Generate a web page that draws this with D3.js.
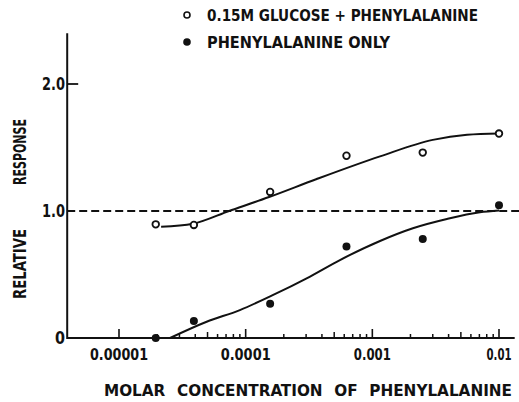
<!DOCTYPE html>
<html>
<head>
<meta charset="utf-8">
<script src="https://cdn.jsdelivr.net/npm/d3@7"></script>
<style>
  body { margin: 0; background: #fff; }
  text {
    font-family: "DejaVu Sans Condensed", "DejaVu Sans", sans-serif;
    font-stretch: condensed;
    font-weight: bold;
    fill: #111;
  }
</style>
</head>
<body>
<svg id="chart" width="519" height="402"></svg>
<script>
// molar concentration of phenylalanine
const concentrations = [0.0000195, 0.000039, 0.000156, 0.000625, 0.0025, 0.01];
// relative response, 0.15M glucose + phenylalanine (open circles)
const glucoseValues = [0.895, 0.89, 1.15, 1.435, 1.46, 1.61];
// relative response, phenylalanine only (filled circles)
const pheValues = [0.0, 0.134, 0.27, 0.72, 0.78, 1.045];

// hand-drawn fitted curves
const glucoseCurve = [
  [0.0000215, 0.876], [0.0000384, 0.90], [0.000074, 1.0], [0.000153, 1.11],
  [0.00036, 1.25], [0.00115, 1.43], [0.003, 1.56], [0.0056, 1.60], [0.01, 1.61]
];
const pheCurve = [
  [0.0000253, 0.0], [0.0000492, 0.128], [0.00009, 0.22], [0.000165, 0.339],
  [0.000303, 0.47], [0.000555, 0.614], [0.00115, 0.764], [0.00209, 0.864],
  [0.00388, 0.937], [0.00707, 0.99], [0.01, 1.004]
];

const xTicks = [0.00001, 0.0001, 0.001, 0.01];
const xTickLabels = ["0.00001", "0.0001", "0.001", "0.01"];
const yTicks = [0, 1, 2];
const yTickLabels = ["0", "1.0", "2.0"];
const legendLabels = ["0.15M  GLUCOSE + PHENYLALANINE", "PHENYLALANINE  ONLY"];

const svg = d3.select("#chart");

const x = d3.scaleLog().domain([1e-5, 1e-2]).range([119, 499]);
const y = d3.scaleLinear().domain([0, 2]).range([338, 84]);
const xMin = 3.9e-6, xMax = 1.33e-2, yMax = 2.4;

const axisG = svg.append("g").attr("stroke", "#111").attr("fill", "none");

// y axis
axisG.append("line")
  .attr("x1", x(xMin)).attr("x2", x(xMin))
  .attr("y1", y(0) + 1).attr("y2", y(yMax))
  .attr("stroke-width", 2);
// tick at 2.0 (1.0 is the dashed line)
axisG.append("line")
  .attr("x1", x(xMin)).attr("x2", x(xMin) + 11)
  .attr("y1", y(2)).attr("y2", y(2))
  .attr("stroke-width", 1.8);

// x axis
axisG.append("line")
  .attr("x1", x(xMin)).attr("x2", x(xMax))
  .attr("y1", y(0)).attr("y2", y(0))
  .attr("stroke-width", 2);

// log ticks pointing up
const minorTicks = [];
[1e-5, 1e-4, 1e-3].forEach(d => {
  for (let k = 2; k <= 9; k++) minorTicks.push(d * k);
});
axisG.selectAll(".minor")
  .data(minorTicks)
  .enter().append("line")
  .attr("x1", d => x(d)).attr("x2", d => x(d))
  .attr("y1", y(0)).attr("y2", (d, i) => y(0) - (i % 8 === 3 ? 6 : 4))
  .attr("stroke-width", 1.5);
axisG.selectAll(".major")
  .data(xTicks)
  .enter().append("line")
  .attr("x1", d => x(d)).attr("x2", d => x(d))
  .attr("y1", y(0)).attr("y2", y(0) - 9)
  .attr("stroke-width", 1.6);

// tick labels
const xLabLen = [58, 50, 37, 25];
svg.selectAll(".xlab")
  .data(xTicks)
  .enter().append("text")
  .attr("x", d => x(d))
  .attr("y", 360)
  .attr("text-anchor", "middle")
  .attr("textLength", (d, i) => xLabLen[i])
  .attr("lengthAdjust", "spacingAndGlyphs")
  .style("font-size", "16px")
  .text((d, i) => xTickLabels[i]);

svg.selectAll(".ylab")
  .data(yTicks)
  .enter().append("text")
  .attr("x", 65)
  .attr("y", d => y(d) + 6)
  .attr("text-anchor", "end")
  .attr("textLength", d => d === 0 ? 10 : 23)
  .attr("lengthAdjust", "spacingAndGlyphs")
  .style("font-size", "17px")
  .text((d, i) => yTickLabels[i]);

// axis titles
svg.append("text")
  .attr("x", 308).attr("y", 396)
  .attr("text-anchor", "middle")
  .attr("textLength", 408)
  .attr("lengthAdjust", "spacingAndGlyphs")
  .attr("word-spacing", "6")
  .style("font-size", "16px")
  .text("MOLAR CONCENTRATION  OF  PHENYLALANINE");

[["RESPONSE", 152, 66], ["RELATIVE", 264, 70]].forEach(([t, cy, len]) => {
  svg.append("text")
    .attr("transform", `translate(26,${cy}) rotate(-90)`)
    .attr("text-anchor", "middle")
    .attr("textLength", len)
    .attr("lengthAdjust", "spacingAndGlyphs")
    .style("font-size", "18px")
    .text(t);
});

// dashed reference line at 1.0
svg.append("line")
  .attr("x1", x(xMin)).attr("x2", 519)
  .attr("y1", y(1)).attr("y2", y(1))
  .attr("stroke", "#111")
  .attr("stroke-width", 2)
  .attr("stroke-dasharray", "8,4");

// fitted curves
const line = d3.line()
  .x(d => x(d[0]))
  .y(d => y(d[1]))
  .curve(d3.curveMonotoneX);

[glucoseCurve, pheCurve].forEach(c => {
  svg.append("path")
    .attr("d", line(c))
    .attr("fill", "none")
    .attr("stroke", "#111")
    .attr("stroke-width", 2);
});

// data points
svg.append("g").selectAll("circle")
  .data(concentrations)
  .enter().append("circle")
  .attr("cx", d => x(d))
  .attr("cy", (d, i) => y(glucoseValues[i]))
  .attr("r", 3.3)
  .attr("fill", "#fff")
  .attr("stroke", "#111")
  .attr("stroke-width", 1.8);

svg.append("g").selectAll("circle")
  .data(concentrations)
  .enter().append("circle")
  .attr("cx", d => x(d))
  .attr("cy", (d, i) => y(pheValues[i]))
  .attr("r", 4)
  .attr("fill", "#111");

// legend
const legend = svg.append("g").attr("transform", "translate(187,15)");
legendLabels.forEach((t, i) => {
  const g = legend.append("g").attr("transform", `translate(0,${i * 27})`);
  g.append("circle")
    .attr("r", i === 0 ? 3 : 3.8)
    .attr("fill", i === 0 ? "#fff" : "#111")
    .attr("stroke", "#111")
    .attr("stroke-width", i === 0 ? 1.6 : 0);
  g.append("text")
    .attr("x", 20)
    .attr("y", 5.5)
    .attr("textLength", i === 0 ? 271 : 183)
    .attr("lengthAdjust", "spacingAndGlyphs")
    .style("font-size", "15px")
    .text(t);
});
</script>
</body>
</html>
